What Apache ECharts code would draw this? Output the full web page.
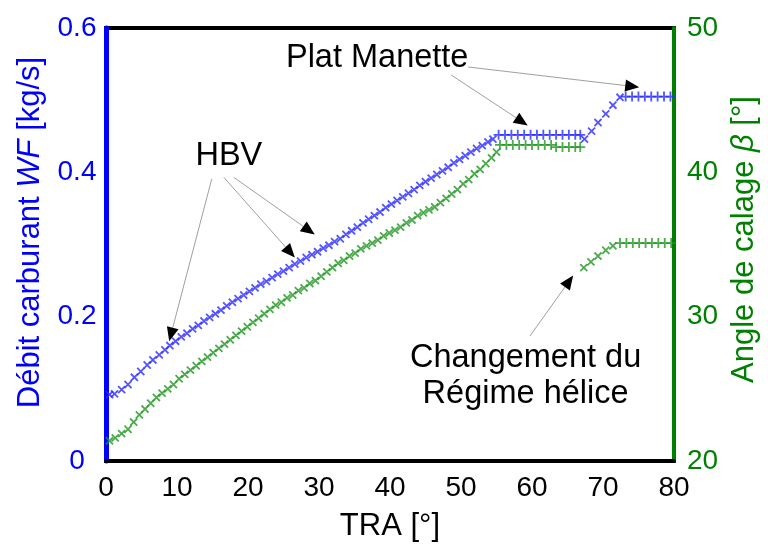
<!DOCTYPE html>
<html>
<head>
<meta charset="utf-8">
<script src="https://cdn.jsdelivr.net/npm/echarts@6/dist/echarts.min.js"></script>
<style>html,body{margin:0;padding:0;background:#fff;}#c{width:768px;height:547px;}</style>
</head>
<body>
<div id="c"></div>
<script>
// ---- data ----
const xTicks = [0, 10, 20, 30, 40, 50, 60, 70, 80];
const wfTicks = [0, 0.2, 0.4, 0.6];
const betaTicks = [20, 30, 40, 50];

// Débit carburant WF [kg/s] vs TRA [°]
const wfTRA = [0.5,1.2,2.2,3.1,4.0,4.9,5.8,6.6,7.5,8.3,9.0,9.8,10.6,11.4,12.2,13.0,13.8,14.6,15.4,16.2,17.0,17.8,18.6,19.4,20.2,21.0,21.8,22.6,23.4,24.2,25.0,25.8,26.6,27.4,28.2,29.0,29.8,30.6,31.4,32.2,33.0,33.8,34.6,35.4,36.2,37.0,37.8,38.6,39.4,40.2,41.0,41.8,42.6,43.4,44.2,45.0,45.8,46.6,47.4,48.2,49.0,49.8,50.6,51.4,52.2,53.0,53.8,54.5,
  55.3,56.2,57.1,58.0,58.9,59.8,60.7,61.6,62.5,63.4,64.3,65.2,66.1,66.8,67.4,68.4,69.3,70.4,71.4,72.4,73.2,74.1,75.0,75.9,76.8,77.7,78.6,79.5];
const wfVal = [0.092,0.093,0.099,0.106,0.116,0.124,0.133,0.140,0.147,0.154,0.160,0.166,0.172,0.177,0.183,0.188,0.194,0.199,0.204,0.209,0.215,0.220,0.225,0.230,0.235,0.240,0.245,0.249,0.254,0.259,0.263,0.268,0.273,0.277,0.282,0.286,0.290,0.295,0.299,0.304,0.308,0.314,0.319,0.324,0.330,0.335,0.340,0.345,0.351,0.356,0.361,0.366,0.371,0.376,0.382,0.387,0.392,0.397,0.402,0.407,0.413,0.418,0.423,0.428,0.433,0.437,0.442,0.446,
  0.452,0.452,0.452,0.452,0.452,0.452,0.452,0.452,0.452,0.452,0.452,0.452,0.452,0.452,0.446,0.457,0.469,0.481,0.493,0.504,0.505,0.505,0.505,0.505,0.505,0.505,0.505,0.505];

// Angle de calage β [°] vs TRA [°]
const betaTRA = [0.5,1.3,2.2,3.1,3.9,4.7,5.5,6.3,7.1,7.9,8.7,9.5,10.3,11.1,11.9,12.7,13.5,14.3,15.1,15.9,16.7,17.5,18.3,19.1,19.9,20.7,21.5,22.3,23.1,23.9,24.7,25.5,26.3,27.1,27.9,28.7,29.5,30.3,31.1,31.9,32.7,33.5,34.3,35.1,35.9,36.7,37.5,38.3,39.1,39.9,40.7,41.5,42.3,43.1,43.9,44.7,45.5,46.3,47.1,47.9,48.7,49.5,50.3,51.1,51.9,52.7,53.5,54.3,55.0,
  55.5,56.4,57.3,58.2,59.1,60.0,60.9,61.8,62.7,63.4,64.3,65.2,66.1,66.8,
  67.3,68.3,69.3,70.4,71.4,72.4,73.3,74.2,75.1,76.0,76.9,77.8,78.7,79.6];
const betaVal = [21.4,21.6,21.9,22.2,22.7,23.2,23.6,24.0,24.4,24.7,25.0,25.3,25.7,26.0,26.3,26.6,26.9,27.2,27.5,27.8,28.1,28.4,28.7,29.0,29.3,29.6,29.9,30.2,30.5,30.8,31.0,31.3,31.5,31.8,32.0,32.3,32.5,32.8,33.1,33.4,33.7,33.9,34.2,34.4,34.7,34.9,35.1,35.3,35.6,35.8,36.0,36.2,36.5,36.7,37.0,37.2,37.4,37.6,37.9,38.2,38.5,38.8,39.2,39.5,39.9,40.2,40.6,41.0,41.4,
  41.9,41.9,41.9,41.9,41.9,41.9,41.9,41.9,41.9,41.75,41.75,41.75,41.75,41.75,
  33.4,33.8,34.2,34.6,34.9,35.1,35.1,35.1,35.1,35.1,35.1,35.1,35.1,35.1];

// annotations, anchored in (TRA, WF) data space
const labels = [
  {text: 'HBV', at: [17.3, 0.422]},
  {text: 'Plat Manette', at: [38.2, 0.559]},
  {text: 'Changement du', at: [59.1, 0.143]},
  {text: 'Régime hélice', at: [59.1, 0.093]}
];
const arrows = [
  {from: [14.9, 0.391], to: [8.9, 0.166]},
  {from: [16.6, 0.393], to: [26.6, 0.282]},
  {from: [18.0, 0.393], to: [29.4, 0.314]},
  {from: [48.6, 0.535], to: [59.4, 0.465]},
  {from: [51.0, 0.546], to: [75.1, 0.518]},
  {from: [59.7, 0.173], to: [65.8, 0.257]}
];

// ---- chart ----
const FONT = 'Liberation Sans, Arial, sans-serif';
const BLUE = '#0000ff', GREEN = '#008000';
const PLUS = 'path://M0,4.1H10V5.9H0ZM4.1,0H5.9V10H4.1Z';

function zip(xs, ys) { return xs.map((x, i) => [x, ys[i]]); }
function rotFor(vals) {
  return function (v, p) {
    const i = p.dataIndex;
    const flat = (i > 0 && vals[i - 1] === vals[i]) || (i < vals.length - 1 && vals[i + 1] === vals[i]);
    return flat ? 0 : 45;
  };
}

const chart = echarts.init(document.getElementById('c'), null, {renderer: 'canvas'});
chart.setOption({
  animation: false,
  backgroundColor: '#fff',
  textStyle: {fontFamily: FONT},
  grid: {left: 106, right: 87, top: 28, bottom: 75, show: true, borderColor: '#000', borderWidth: 4, backgroundColor: 'transparent'},
  xAxis: {
    type: 'value', min: xTicks[0], max: xTicks[xTicks.length - 1], interval: xTicks[1] - xTicks[0],
    axisLine: {show: true, lineStyle: {color: '#000', width: 4}},
    axisTick: {show: false}, splitLine: {show: false},
    axisLabel: {color: '#000', fontSize: 28, margin: 13, fontFamily: FONT},
    name: 'TRA [°]', nameLocation: 'middle', nameGap: 50,
    nameTextStyle: {color: '#000', fontSize: 31, fontFamily: FONT}
  },
  yAxis: [
    {
      type: 'value', position: 'left', min: wfTicks[0], max: wfTicks[wfTicks.length - 1], interval: wfTicks[1] - wfTicks[0],
      axisLine: {show: true, onZero: false, lineStyle: {color: BLUE, width: 5}},
      axisTick: {show: false}, splitLine: {show: false},
      axisLabel: {color: BLUE, fontSize: 28, margin: 29, align: 'center', fontFamily: FONT, formatter: v => v === 0 ? '0' : v.toFixed(1)},
      name: 'Débit carburant {i|WF} [kg/s]', nameLocation: 'middle', nameGap: 60, nameRotate: 90,
      nameTextStyle: {color: BLUE, fontSize: 31, fontFamily: FONT, padding: [0, 0, 0, 24],
        rich: {i: {fontStyle: 'italic', fontSize: 31, color: BLUE, fontFamily: FONT}}}
    },
    {
      type: 'value', position: 'right', min: betaTicks[0], max: betaTicks[betaTicks.length - 1], interval: betaTicks[1] - betaTicks[0],
      axisLine: {show: true, onZero: false, lineStyle: {color: GREEN, width: 4}},
      axisTick: {show: false}, splitLine: {show: false},
      axisLabel: {color: GREEN, fontSize: 28, margin: 13, fontFamily: FONT},
      name: 'Angle de calage {i|β} [°]', nameLocation: 'middle', nameGap: 53, nameRotate: 90,
      nameTextStyle: {color: GREEN, fontSize: 31, fontFamily: FONT, padding: [0, 0, 0, 10],
        rich: {i: {fontStyle: 'italic', fontSize: 31, color: GREEN, fontFamily: FONT}}}
    }
  ],
  series: [
    {
      type: 'scatter', yAxisIndex: 0, data: zip(wfTRA, wfVal),
      symbol: PLUS, symbolSize: 10, symbolRotate: rotFor(wfVal),
      itemStyle: {color: '#2a2aff'}, z: 3
    },
    {
      type: 'scatter', yAxisIndex: 1, data: zip(betaTRA, betaVal),
      symbol: PLUS, symbolSize: 10, symbolRotate: rotFor(betaVal),
      itemStyle: {color: '#1f961f'}, z: 3
    }
  ]
});

// annotations via the chart's own coordinate conversion
function px(pt) { return chart.convertToPixel({xAxisIndex: 0, yAxisIndex: 0}, pt); }
const g = [];
labels.forEach(l => {
  const p = px(l.at);
  g.push({type: 'text', x: p[0], y: p[1], z: 10,
    style: {text: l.text, fill: '#000', font: '32.5px ' + FONT, textAlign: 'center', textVerticalAlign: 'middle'}});
});
arrows.forEach(a => {
  const s = px(a.from), e = px(a.to);
  const dx = e[0] - s[0], dy = e[1] - s[1], L = Math.hypot(dx, dy);
  const ux = dx / L, uy = dy / L, hl = 14, hw = 6;
  const bx = e[0] - ux * hl, by = e[1] - uy * hl;
  g.push({type: 'line', z: 10, shape: {x1: s[0], y1: s[1], x2: bx, y2: by}, style: {stroke: '#a0a0a0', lineWidth: 1}});
  g.push({type: 'polygon', z: 10, shape: {points: [[e[0], e[1]], [bx - uy * hw, by + ux * hw], [bx + uy * hw, by - ux * hw]]}, style: {fill: '#000'}});
});
chart.setOption({graphic: g});
</script>
</body>
</html>
